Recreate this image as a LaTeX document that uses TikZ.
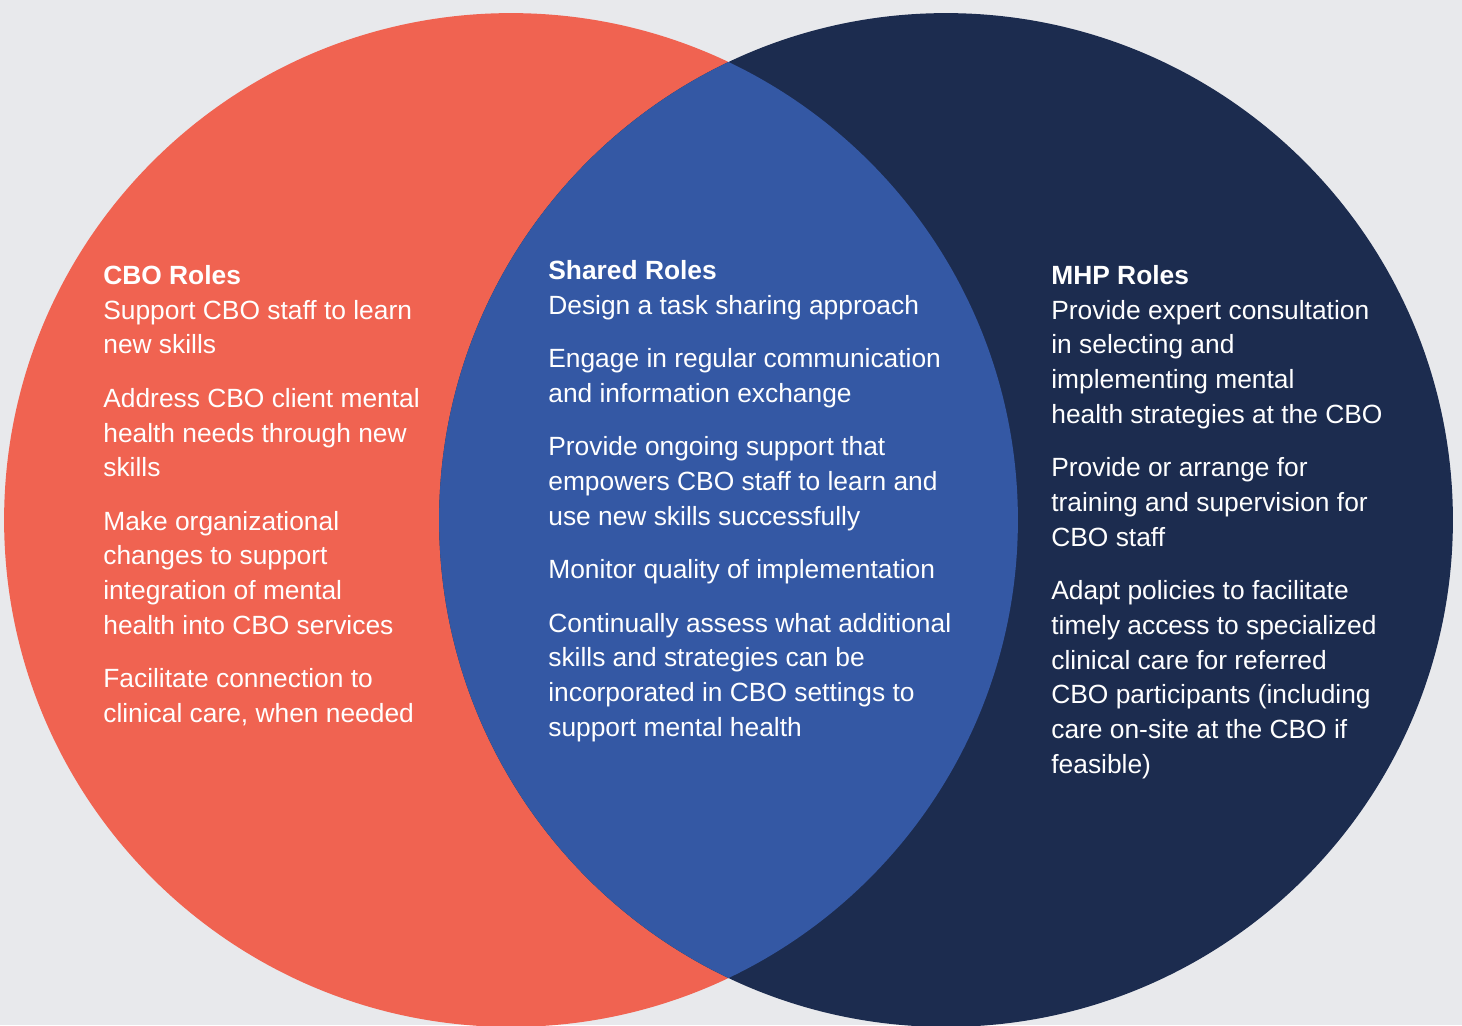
\documentclass[tikz,border=0pt]{standalone}
\usepackage{fontspec}
\setmainfont{Liberation Sans}
\usepackage{tikz}
\usetikzlibrary{positioning}
\usepackage{xcolor}
\definecolor{bggray}{HTML}{E8E9EC}
\definecolor{cbocoral}{HTML}{F06351}
\definecolor{mhpnavy}{HTML}{1C2C4F}
\definecolor{sharedblue}{HTML}{3458A4}

\begin{document}
\begin{tikzpicture}[x=0.02cm, y=-0.02cm,
  roles/.style={anchor=north west, inner sep=0pt, align=left, text=white, font=\fontsize{15}{19.75}\selectfont}
]
\fill[bggray] (0,0) rectangle (1462,1025);
\useasboundingbox (0,0) rectangle (1462,1025);

% circles and their overlap
\fill[cbocoral] (511,520) circle[radius=10.14cm];
\fill[mhpnavy] (946,520) circle[radius=10.14cm];
\begin{scope}
  \clip (511,520) circle[radius=10.14cm];
  \fill[sharedblue] (946,520) circle[radius=10.14cm];
\end{scope}

\node[roles] (cbo) at (103,265) {\textbf{CBO Roles}\\
  Support CBO staff to learn\\
  new skills\\[10.7pt]
  Address CBO client mental\\
  health needs through new\\
  skills\\[10.7pt]
  Make organizational\\
  changes to support\\
  integration of mental\\
  health into CBO services\\[10.7pt]
  Facilitate connection to\\
  clinical care, when needed};

\node[roles] (shared) at (548,260) {\textbf{Shared Roles}\\
  Design a task sharing approach\\[10.7pt]
  Engage in regular communication\\
  and information exchange\\[10.7pt]
  Provide ongoing support that\\
  empowers CBO staff to learn and\\
  use new skills successfully\\[10.7pt]
  Monitor quality of implementation\\[10.7pt]
  Continually assess what additional\\
  skills and strategies can be\\
  incorporated in CBO settings to\\
  support mental health};

\node[roles] (mhp) at (1051,265) {\textbf{MHP Roles}\\
  Provide expert consultation\\
  in selecting and\\
  implementing mental\\
  health strategies at the CBO\\[10.7pt]
  Provide or arrange for\\
  training and supervision for\\
  CBO staff\\[10.7pt]
  Adapt policies to facilitate\\
  timely access to specialized\\
  clinical care for referred\\
  CBO participants (including\\
  care on-site at the CBO if\\
  feasible)};
\end{tikzpicture}
\end{document}
